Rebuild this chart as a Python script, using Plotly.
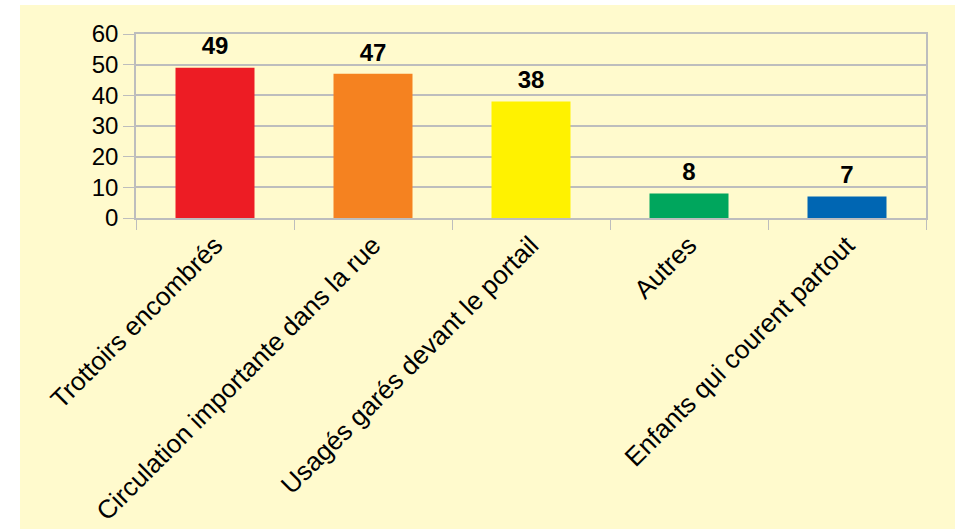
import plotly.graph_objects as go

BG = "#fffacd"
GRID = "#bdbdbd"
FONT = "Liberation Sans"

categories = [
    "Trottoirs encombrés",
    "Circulation importante dans la rue",
    "Usagés garés devant le portail",
    "Autres",
    "Enfants qui courent partout",
]
counts = [49, 47, 38, 8, 7]
bar_colors = ["#ed1c24", "#f58220", "#fff200", "#00a65d", "#0066b3"]

W, H = 955, 529
L, R, T, B = 136, 29, 34, 311
pw, ph = W - L - R, H - T - B

fig = go.Figure()
fig.add_trace(
    go.Bar(
        x=categories,
        y=counts,
        marker=dict(color=bar_colors, line=dict(width=0)),
        hoverinfo="x+y",
    )
)
# value labels above the bars
fig.add_trace(
    go.Scatter(
        x=categories,
        y=counts,
        mode="markers+text",
        text=[str(v) for v in counts],
        textposition="top center",
        textfont=dict(family=FONT, size=24, color="#000000", weight="bold"),
        marker=dict(size=10, color="rgba(0,0,0,0)"),
        cliponaxis=False,
        hoverinfo="skip",
    )
)

# light yellow page area, leaving a thin white strip top and left
fig.add_shape(
    type="rect", xref="paper", yref="paper", layer="below",
    x0=(20 - L) / pw, x1=(W - L) / pw,
    y0=-(H - (T + ph)) / ph, y1=(T + ph - 5) / ph,
    fillcolor=BG, line=dict(width=0),
)

fig.update_layout(
    width=W,
    height=H,
    margin=dict(l=L, r=R, t=T, b=B, autoexpand=False),
    paper_bgcolor="#ffffff",
    plot_bgcolor="rgba(0,0,0,0)",
    font=dict(family=FONT, size=24, color="#000000"),
    showlegend=False,
    bargap=0.5,
    xaxis=dict(
        tickangle=-45,
        tickson="boundaries",
        ticks="outside",
        ticklen=10,
        tickcolor=GRID,
        showline=True,
        linecolor=GRID,
        linewidth=1.5,
        mirror=True,
        showgrid=False,
        tickfont=dict(family=FONT, size=26),
    ),
    yaxis=dict(
        range=[0, 60],
        dtick=10,
        ticks="outside",
        ticklen=11,
        tickcolor=GRID,
        showline=True,
        linecolor=GRID,
        linewidth=1.5,
        mirror=True,
        gridcolor=GRID,
        gridwidth=1.5,
        zeroline=False,
        tickfont=dict(family=FONT, size=24),
    ),
)

fig.write_html(
    "out.html",
    config={"displayModeBar": False},
    post_script="document.body.style.margin='0';",
)
